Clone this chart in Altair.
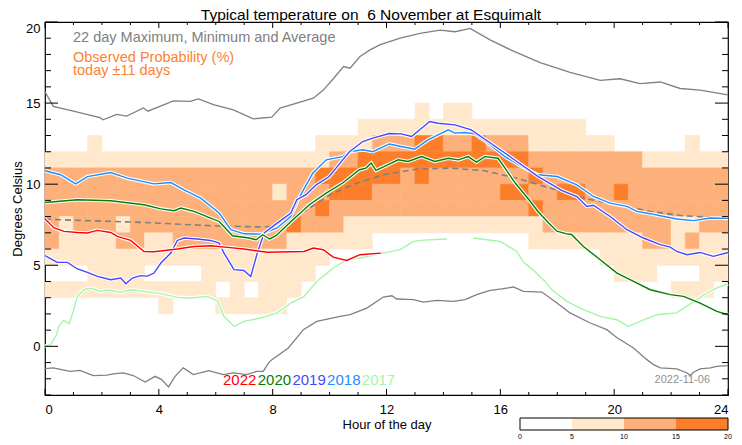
import altair as alt
import pandas as pd

# ---------------- data ----------------
TITLE = "Typical temperature on \u00a06 November at Esquimalt"
X_TITLE = "Hour of the day"
Y_TITLE = "Degrees Celsius"
NOTE_GRAY = "22 day Maximum, Minimum and Average"
NOTE_ORANGE_1 = "Observed Probability (%)"
NOTE_ORANGE_2 = "today \u00b111 days"
DATE_STAMP = "2022-11-06"

x_tick_labels = [0, 4, 8, 12, 16, 20, 24]
y_tick_labels = [0, 5, 10, 15, 20]
prob_bins = [0, 5, 10, 15, 20]

# probability level per half-hour cell (0: <5%, 1: 5-10%, 2: 10-15%, 3: 15-20%)
# run-length encoded (level, number of half-hour cells) per 1-degree row
prob_row_14 = [(0, 26), (1, 1), (0, 1), (1, 2), (0, 18)]
prob_row_13 = [(0, 22), (1, 16), (0, 10)]
prob_row_12 = [(0, 3), (1, 1), (0, 15), (1, 4), (2, 3), (3, 2), (2, 2), (3, 1), (2, 3), (1, 6), (0, 5), (1, 1), (0, 2)]
prob_row_11 = [(1, 20), (2, 2), (3, 12), (2, 8), (1, 6)]
prob_row_10 = [(2, 19), (3, 6), (2, 1), (3, 1), (2, 7), (3, 1), (2, 13)]
prob_row_9 = [(2, 16), (1, 1), (2, 3), (3, 3), (2, 9), (3, 2), (2, 2), (3, 2), (2, 2), (3, 1), (2, 7)]
prob_row_8 = [(2, 19), (3, 1), (2, 14), (3, 1), (2, 13)]
prob_row_7 = [(2, 1), (1, 1), (2, 3), (1, 1), (2, 11), (3, 1), (2, 3), (1, 14), (2, 9), (1, 2), (2, 2)]
prob_row_6 = [(2, 1), (1, 4), (2, 2), (1, 2), (2, 8), (1, 6), (0, 11), (1, 8), (2, 2), (1, 1), (2, 1), (1, 2)]
prob_row_5 = [(1, 20), (0, 19), (1, 9)]
prob_row_4 = [(0, 3), (1, 4), (0, 4), (1, 8), (0, 21), (1, 3), (0, 3), (1, 2)]
prob_row_3 = [(1, 12), (0, 1), (1, 1), (0, 1), (1, 3), (0, 26), (1, 3), (0, 1)]
prob_row_2 = [(0, 8), (1, 1), (0, 3), (1, 5), (0, 31)]
prob_level_pct = [2.5, 7.5, 12.5, 17.5]

t_max = [(0, 15.7), (0.29, 14.8), (1.0, 14.5), (1.93, 14.1), (2.04, 13.97), (2.52, 14.3), (2.87, 14.2),
         (3.46, 14.7), (3.62, 14.5), (4.51, 15.14), (5.1, 15.1), (5.39, 15.26), (5.92, 14.9), (6.62, 14.58),
         (7.32, 14.03), (7.97, 14.13), (8.26, 14.69), (9.43, 15.3), (9.78, 15.8), (10.13, 16.5),
         (10.49, 17.25), (10.72, 17.15), (11.07, 17.87), (11.42, 18.28), (11.78, 18.6), (12.48, 19.0),
         (13.18, 19.3), (13.88, 19.5), (14.41, 19.4), (14.94, 19.6), (15.64, 18.9), (16.34, 18.3),
         (17.4, 17.5), (18.45, 16.9), (19.51, 16.4), (20.21, 16.5), (20.91, 16.2), (21.62, 16.3),
         (22.32, 15.9), (23.02, 15.8), (24.0, 15.5)]
t_min = [(0, -1.37), (0.29, -1.33), (0.88, -1.54), (1.23, -1.48), (1.7, -1.8), (2.17, -1.78), (2.4, -1.7),
         (2.75, -1.64), (3.1, -1.8), (3.52, -2.2), (3.87, -1.85), (4.1, -2.05), (4.34, -2.5), (4.57, -1.85),
         (4.86, -1.33), (5.21, -1.74), (5.45, -1.64), (5.75, -1.5), (6.27, -1.74), (6.62, -1.64),
         (7.09, -1.74), (7.44, -1.54), (7.67, -1.54), (7.85, -1.03), (7.97, -0.82), (8.55, -0.1),
         (9.08, 1.03), (9.55, 1.54), (10.37, 1.85), (10.72, 1.95), (11.31, 2.36), (11.89, 3.04),
         (12.19, 3.12), (12.36, 2.92), (12.95, 2.88), (13.3, 2.73), (13.77, 2.83), (14.35, 2.77),
         (14.76, 2.88), (15.17, 3.19), (15.64, 3.45), (16.05, 3.54), (16.46, 3.66), (16.81, 3.39),
         (17.46, 3.35), (17.99, 2.67), (18.45, 2.06), (19.16, 1.44), (19.74, 1.03), (20.09, 0.55),
         (20.68, -0.1), (21.15, -0.82), (21.39, -1.13), (21.62, -1.33), (22.2, -1.39), (22.56, -1.64),
         (22.67, -1.8), (22.79, -1.6), (23.02, -1.39), (23.38, -1.33), (23.61, -1.23), (24.0, -1.19)]
t_avg = [(0, 7.85), (1.14, 7.77), (3.48, 7.64), (5.82, 7.44), (7.58, 7.36), (8.02, 7.4), (9.2, 8.42),
         (10.02, 9.35), (10.72, 9.9), (11.2, 10.2), (11.89, 10.58), (13.06, 10.93), (14.24, 10.99),
         (15.41, 10.84), (16.58, 10.37), (17.75, 9.76), (18.92, 9.14), (20.09, 8.73), (21.26, 8.32),
         (22.44, 8.05), (24.0, 7.91)]

y2022 = [(0, 7.85), (0.32, 7.3), (0.67, 7.09), (1.14, 7.02), (1.49, 6.99), (1.84, 7.15), (2.31, 7.02),
         (2.54, 6.78), (3.01, 6.53), (3.48, 5.85), (3.83, 5.83), (4.65, 6.0), (5.24, 6.16), (5.82, 6.2),
         (6.41, 6.1), (6.99, 6.0), (7.81, 5.8), (9.1, 5.85), (9.43, 6.06), (9.78, 5.96), (10.13, 5.5),
         (10.6, 5.3), (11.07, 5.65), (11.8, 5.75)]
y2020 = [(0, 8.87), (1.14, 9.04), (2.31, 8.98), (3.48, 8.73), (4.07, 8.48), (4.54, 8.36), (4.77, 8.53),
         (5.24, 8.32), (5.82, 7.91), (6.12, 7.7), (6.59, 6.82), (7.17, 6.68), (7.42, 6.57), (7.65, 6.88),
         (7.89, 6.62), (8.12, 6.82), (8.71, 7.8), (9.29, 8.73), (9.88, 9.45), (10.46, 10.07), (11.05, 10.89),
         (11.28, 10.99), (11.46, 11.3), (11.63, 10.85), (12.06, 11.2), (12.41, 11.5), (12.76, 11.4),
         (13.23, 11.7), (13.7, 11.4), (14.17, 11.6), (14.52, 11.5), (14.87, 11.7), (15.16, 11.36),
         (15.46, 11.7), (15.92, 11.6), (16.14, 11.05), (16.51, 10.1), (16.98, 9.1), (17.33, 8.3),
         (17.7, 7.6), (17.99, 7.1), (18.3, 6.95), (18.5, 6.9), (18.92, 6.16), (19.51, 5.34), (20.1, 4.52),
         (20.68, 4.0), (21.27, 3.49), (21.97, 3.19), (22.44, 3.08), (23.02, 2.67), (23.61, 2.16),
         (24.0, 1.95)]
y2019 = [(0, 5.59), (0.43, 5.18), (0.79, 5.18), (1.14, 4.77), (1.49, 4.56), (1.84, 4.31), (2.31, 4.11),
         (2.66, 4.21), (2.84, 3.86), (3.07, 4.21), (3.36, 4.36), (3.6, 4.33), (3.83, 4.52), (4.07, 5.14),
         (4.42, 5.75), (4.65, 6.53), (4.89, 6.68), (5.36, 6.62), (5.82, 6.53), (6.12, 6.37), (6.29, 5.75),
         (6.64, 4.73), (6.99, 4.68), (7.23, 4.31), (7.46, 5.75), (7.7, 6.99), (8.16, 7.6), (8.64, 8.22),
         (8.85, 9.04), (9.17, 9.35), (9.53, 9.96), (9.99, 10.47), (10.46, 11.5), (10.7, 12.0),
         (11.17, 12.63), (11.52, 12.84), (12.1, 13.12), (12.52, 13.1), (12.88, 12.94), (13.23, 13.45),
         (13.52, 13.86), (13.81, 13.76), (14.4, 13.66), (14.98, 13.35), (15.57, 12.63), (16.16, 11.92),
         (16.74, 11.2), (17.33, 10.47), (17.92, 9.86), (18.15, 9.62), (18.69, 9.24), (19.04, 8.63),
         (19.27, 8.7), (19.86, 8.01), (20.45, 7.19), (21.03, 6.68), (21.62, 6.27), (21.97, 6.12),
         (22.2, 5.85), (22.56, 5.65), (23.02, 5.79), (23.49, 5.55), (24.0, 5.79)]
y2018 = [(0, 10.83), (0.55, 10.58), (1.08, 10.02), (1.49, 10.47), (2.31, 10.72), (2.89, 10.37),
         (3.83, 10.02), (4.42, 10.1), (4.89, 9.65), (5.47, 9.14), (6.12, 8.22), (6.53, 7.19), (7.0, 6.94),
         (7.6, 6.92), (8.16, 7.3), (8.63, 8.0), (8.94, 9.2), (9.41, 10.68), (9.88, 11.5), (10.46, 11.7),
         (10.7, 12.0), (11.17, 12.12), (11.52, 12.0), (12.1, 12.48), (12.52, 12.32), (12.99, 12.16),
         (13.46, 12.73), (13.81, 13.04), (14.17, 13.35), (14.4, 13.15), (14.75, 13.19), (15.1, 13.1),
         (15.57, 12.53), (16.16, 11.7), (16.74, 11.09), (17.33, 10.58), (18.0, 10.47), (18.69, 9.96),
         (19.27, 9.24), (19.86, 8.83), (20.45, 8.63), (20.8, 8.32), (21.27, 8.18), (21.62, 8.05),
         (22.2, 7.85), (22.79, 7.75), (23.38, 7.91), (24.0, 7.89)]
y2017 = [(0, 0.0), (0.2, 0.1), (0.4, 0.7), (0.5, 1.3), (0.65, 1.6), (0.85, 1.4), (1.0, 2.2), (1.14, 3.08),
         (1.37, 3.49), (1.6, 3.6), (1.95, 3.39), (2.19, 3.49), (2.66, 3.33), (3.0, 3.49), (3.48, 3.39),
         (4.07, 3.25), (4.65, 3.02), (5.12, 2.98), (5.7, 3.08), (6.06, 2.8), (6.29, 1.85), (6.64, 1.23),
         (6.99, 1.54), (7.58, 1.75), (8.16, 2.06), (8.64, 2.67), (9.1, 3.08), (9.55, 4.0), (10.13, 4.83),
         (10.6, 5.34), (11.07, 5.45), (11.89, 5.75), (12.48, 5.96), (12.95, 6.47), (13.3, 6.55),
         (14.12, 6.62), (14.5, None), (15.05, 6.68), (15.53, 6.57), (15.99, 6.47), (16.58, 5.85),
         (16.81, 5.2), (17.16, 4.7), (17.63, 3.9), (17.8, 3.5), (18.34, 2.77), (18.92, 2.26), (19.51, 1.85),
         (20.09, 1.64), (20.5, 1.23), (20.91, 1.54), (21.5, 1.95), (22.2, 2.06), (22.44, 2.36),
         (22.91, 2.88), (23.26, 3.29), (23.61, 3.6), (24.0, 3.86)]

years = ["2022", "2020", "2019", "2018", "2017"]
year_series = [y2022, y2020, y2019, y2018, y2017]
year_colors = ["#ff0000", "#008000", "#4646ff", "#1e8cff", "#a6f5a6"]

# ---------------- layout constants ----------------
W, H = 683, 373
GRAY = "#808080"
ORANGE = "#ff8033"
C_LIGHT, C_MED, C_DARK = "#ffe8cc", "#fdb07a", "#fd7e2a"
FONT = "Liberation Sans"
CB_LEFT_PX, CB_TOP_PX, CB_BOTTOM_PX = 475, 396, 408

# ---------------- build tables ----------------
rows = {14: prob_row_14, 13: prob_row_13, 12: prob_row_12, 11: prob_row_11, 10: prob_row_10,
        9: prob_row_9, 8: prob_row_8, 7: prob_row_7, 6: prob_row_6, 5: prob_row_5,
        4: prob_row_4, 3: prob_row_3, 2: prob_row_2}
cells = []
for deg, runs in rows.items():
    col = 0
    for level, n in runs:
        for _ in range(n):
            if level > 0:
                cells.append({"h0": col * 0.5, "h1": col * 0.5 + 0.5, "t0": deg, "t1": deg + 1,
                              "prob": prob_level_pct[level]})
            col += 1
    assert col == 48, (deg, col)
heat_df = pd.DataFrame(cells)


def series_df(points):
    recs, seg = [], 0
    for h, v in points:
        if v is None:
            seg += 1
            continue
        recs.append({"x": h, "y": v, "seg": seg})
    return pd.DataFrame(recs)


xs = alt.Scale(domain=[0, 24], nice=False, zero=False)
ys = alt.Scale(domain=[-3, 20], nice=False, zero=False)
cscale = alt.Scale(type="threshold", domain=[5, 10, 15], range=["#ffffff", C_LIGHT, C_MED, C_DARK])

x_axis = alt.Axis(values=x_tick_labels, ticks=False, domain=False, grid=False, labelFontSize=13,
                  labelPadding=8, labelColor="black", labelFont=FONT, title=X_TITLE, titleFontSize=13,
                  titleFontWeight="normal", titleColor="black", titleFont=FONT, titleY=23,
                  titleBaseline="top")
y_axis = alt.Axis(values=y_tick_labels, ticks=False, domain=False, grid=False, labelFontSize=13,
                  labelPadding=5, labelColor="black", labelFont=FONT, labelFlush=True, title=Y_TITLE,
                  titleFontSize=13, titleFontWeight="normal", titleColor="black", titleFont=FONT,
                  titlePadding=1)

heat = alt.Chart(heat_df).mark_rect(strokeWidth=0.6).encode(
    x=alt.X("h0:Q", scale=xs, axis=x_axis), x2="h1",
    y=alt.Y("t0:Q", scale=ys, axis=y_axis), y2="t1",
    color=alt.Color("prob:Q", scale=cscale, legend=None),
    stroke=alt.Stroke("prob:Q", scale=cscale, legend=None),
)


def line_layers(points, color, width, dash=None, halo=False):
    df = series_df(points)
    enc = dict(x=alt.X("x:Q", scale=xs), y=alt.Y("y:Q", scale=ys), detail="seg:N")
    out = []
    if halo:
        out.append(alt.Chart(df).mark_line(color="white", strokeWidth=width + 2.2).encode(**enc))
    kw = dict(color=color, strokeWidth=width)
    if dash:
        kw["strokeDash"] = dash
    out.append(alt.Chart(df).mark_line(**kw).encode(**enc))
    return out


layers = [heat]
layers += line_layers(t_max, GRAY, 1.3)
layers += line_layers(t_min, GRAY, 1.3)
layers += line_layers(t_avg, GRAY, 1.6, dash=[6, 4])
for name, pts, col in reversed(list(zip(years, year_series, year_colors))):
    layers += line_layers(pts, col, 1.4, halo=True)

# inward ticks on all four sides
y_minor = pd.DataFrame({"v": [v for v in range(-3, 21) if v % 5 != 0]})
y_major = pd.DataFrame({"v": y_tick_labels})
x_minor = pd.DataFrame({"v": [v for v in range(0, 25) if v % 4 != 0]})
x_major = pd.DataFrame({"v": x_tick_labels})
for df, ln in [(y_minor, 6), (y_major, 13)]:
    yenc = alt.Y("v:Q", scale=ys)
    layers.append(alt.Chart(df).mark_rule(color="black", strokeWidth=1).encode(
        y=yenc, x=alt.value(0), x2=alt.value(ln)))
    layers.append(alt.Chart(df).mark_rule(color="black", strokeWidth=1).encode(
        y=yenc, x=alt.value(W - ln), x2=alt.value(W)))
for df, ln in [(x_minor, 3), (x_major, 6)]:
    xenc = alt.X("v:Q", scale=xs)
    layers.append(alt.Chart(df).mark_rule(color="black", strokeWidth=1).encode(
        x=xenc, y=alt.value(H - ln), y2=alt.value(H)))
    layers.append(alt.Chart(df).mark_rule(color="black", strokeWidth=1).encode(
        x=xenc, y=alt.value(0), y2=alt.value(ln)))

one = pd.DataFrame({"a": [0]})


def label(text, x, y, size, color, align="left"):
    return alt.Chart(one).mark_text(font=FONT, fontSize=size, color=color, align=align,
                                    baseline="alphabetic").encode(
        x=alt.value(x), y=alt.value(y), text=alt.value(text))


layers.append(label(TITLE, 326, -2, 15.5, "black", align="center"))
layers.append(label(NOTE_GRAY, 28, 19.5, 14.5, GRAY))
layers.append(label(NOTE_ORANGE_1, 28, 39.5, 14.5, ORANGE))
layers.append(label(NOTE_ORANGE_2, 28, 52.5, 14.5, ORANGE))
layers.append(label(DATE_STAMP, 665, 361, 11, "#909090", align="right"))
for i, (name, col) in enumerate(zip(years, year_colors)):
    layers.append(label(name, 178 + i * 34.7, 363, 15, col))

# colour bar under the plot, placed on the hour scale (pure layout mapping of 0..20 %)
cb_h0 = 24.0 * CB_LEFT_PX / W
cb_scale = (24.0 - cb_h0) / (prob_bins[-1] - prob_bins[0])
cb_df = pd.DataFrame({"lo": prob_bins[:-1], "hi": prob_bins[1:]})
cb_df["mid"] = (cb_df["lo"] + cb_df["hi"]) / 2
cb_df["x0"] = cb_h0 + cb_df["lo"] * cb_scale
cb_df["x1"] = cb_h0 + cb_df["hi"] * cb_scale
cb_lab = pd.DataFrame({"v": prob_bins})
cb_lab["x"] = cb_h0 + cb_lab["v"] * cb_scale

layers.append(alt.Chart(cb_df).mark_rect().encode(
    x=alt.X("x0:Q", scale=xs), x2="x1",
    y=alt.value(CB_TOP_PX), y2=alt.value(CB_BOTTOM_PX),
    color=alt.Color("mid:Q", scale=cscale, legend=None)))
layers.append(alt.Chart(one).mark_rect(fillOpacity=0, stroke="black", strokeWidth=1).encode(
    x=alt.value(CB_LEFT_PX), x2=alt.value(W), y=alt.value(CB_TOP_PX), y2=alt.value(CB_BOTTOM_PX)))
layers.append(alt.Chart(cb_lab).mark_text(font=FONT, fontSize=7, color="black",
                                          baseline="alphabetic").encode(
    x=alt.X("x:Q", scale=xs), y=alt.value(417), text="v:Q"))

chart = alt.layer(*layers).properties(
    width=W, height=H,
    autosize=alt.AutoSizeParams(type="none"),
    padding={"left": 37, "top": 14, "right": 6, "bottom": 44},
).configure(font=FONT).configure_view(stroke="black", strokeWidth=1.2)

chart.save("out.html", embed_options={"renderer": "svg", "actions": False})
